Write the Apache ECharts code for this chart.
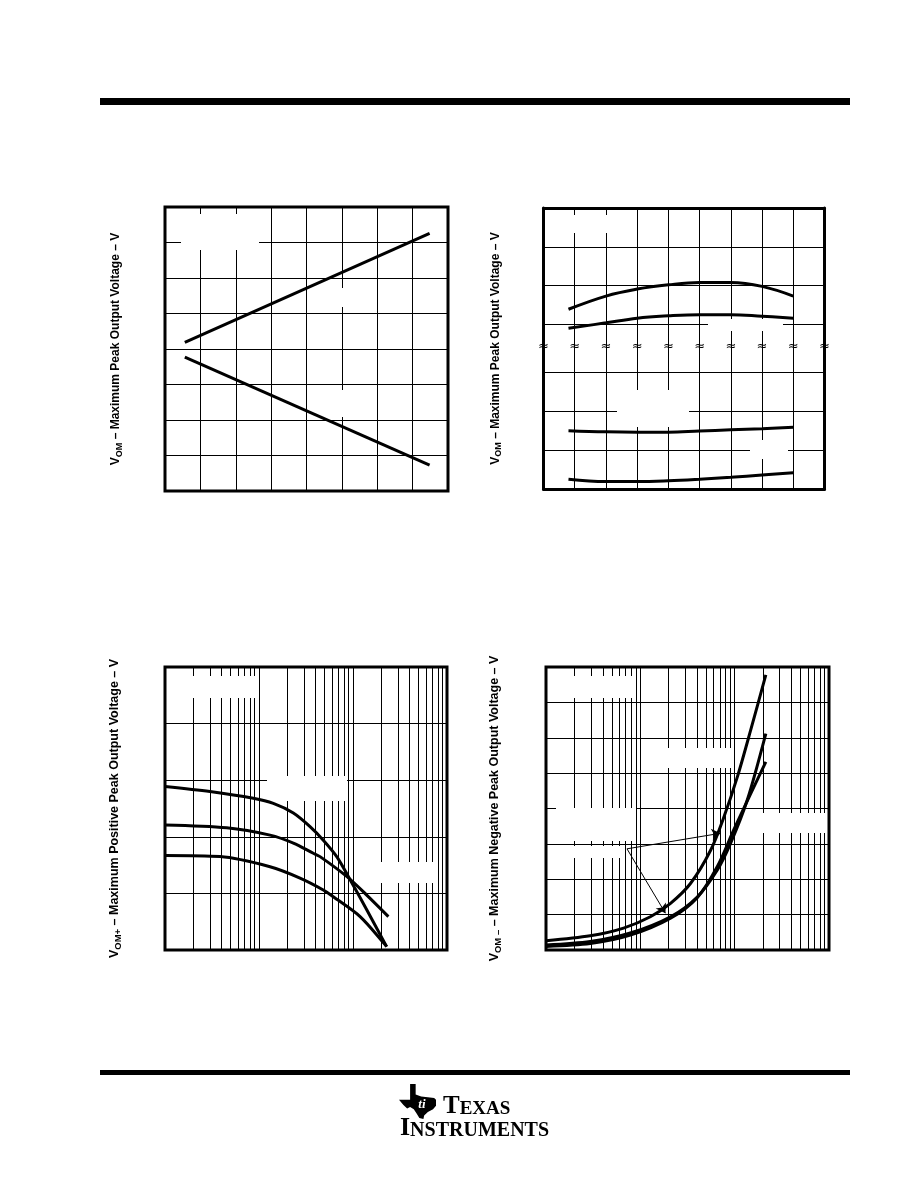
<!DOCTYPE html>
<html><head><meta charset="utf-8">
<script src="https://cdn.jsdelivr.net/npm/echarts@6/dist/echarts.min.js"></script>
<style>html,body{margin:0;padding:0;background:#fff}#c{width:918px;height:1188px}</style>
</head><body><div id="c"></div>
<script>
// ---------- DATA ----------
// Chart 1: maximum peak output voltage vs supply voltage
const c1Supply = [1.4, 18.7];
const c1VomPos = [0.95, 16.3];
const c1VomNeg = [-1.16, -16.37];
// Chart 2: maximum peak output voltage vs free-air temperature
const c2Temp = [-55, -25, 0, 25, 50, 75, 100, 125];
const c2PosA = [13.739, 13.773, 13.791, 13.802, 13.808, 13.808, 13.798, 13.773];
const c2PosB = [13.690, 13.704, 13.716, 13.722, 13.725, 13.725, 13.721, 13.716];
const c2NegC = [-13.850, -13.853, -13.854, -13.854, -13.851, -13.848, -13.845, -13.841];
const c2NegD = [-13.975, -13.981, -13.981, -13.979, -13.975, -13.970, -13.964, -13.958];
const c2TickValues = [-75, -50, -25, 0, 25, 50, 75, 100, 125, 150];
const c2BreakValue = 13.642;
// Chart 3: maximum positive peak output voltage vs output current (log)
const c3Curve1 = [[0.1,12.89],[0.301,12.80],[0.869,12.68],[1.42,12.59],[2.32,12.42],[3.49,12.18],[4.83,11.94],[6.71,11.65],[8.91,11.30],[14.0,10.71],[22.8,10.06]];
const c3Curve2 = [[0.1,12.21],[0.453,12.16],[1.31,12.03],[2.32,11.89],[3.78,11.71],[4.46,11.65],[8.57,11.30],[14.0,10.97],[23.8,10.59]];
const c3Curve3 = [[0.1,11.67],[0.385,11.65],[1.31,11.47],[2.73,11.27],[4.83,11.06],[6.17,10.94],[11.9,10.59],[22.8,10.06]];
// Chart 4: maximum negative peak output voltage vs output current (log)
const c4CurveA = [[0.1,-14.87],[0.294,-14.80],[0.664,-14.69],[1.277,-14.53],[2.09,-14.34],[3.40,-14.06],[5.56,-13.59],[7.69,-13.12],[10.7,-12.55],[14.8,-11.89],[21.4,-11.11]];
const c4CurveB = [[0.1,-14.93],[0.294,-14.88],[0.783,-14.76],[2.09,-14.53],[4.01,-14.25],[6.55,-13.87],[9.06,-13.49],[13.6,-12.88],[21.4,-11.94]];
const c4CurveC = [[0.1,-14.95],[0.294,-14.91],[0.783,-14.79],[2.09,-14.55],[4.01,-14.26],[6.55,-13.82],[9.8,-13.30],[14.8,-12.79],[21.4,-12.34]];
const c4ArrowFrom = [0.722, -13.57];
const c4ArrowTo1 = [7.10, -13.35];
const c4ArrowTo2 = [1.845, -14.48];
// log grid lines (0.1 .. 100)
const logGridX = [0.2,0.3,0.4,0.5,0.6,0.7,0.8,0.9,1,2,3,4,5,6,7,8,9,10,20,30,40,50,60,70,80,90];

// ---------- LAYOUT / STYLE ----------
const K = '#000';
const FONT = 'Liberation Sans, Arial, sans-serif';
const chart = echarts.init(document.getElementById('c'), null, {renderer: 'canvas', width: 918, height: 1188});

const noLbl = {axisLabel: {show: false}, axisTick: {show: false}};
const grid1px = {show: true, lineStyle: {color: K, width: 1, type: 'solid'}};
const thick = {show: true, onZero: false, lineStyle: {color: K, width: 3}};
const gridBox = {show: true, borderColor: K, borderWidth: 3, backgroundColor: 'transparent'};

function yName(text, gap, size) {
  return {
    name: text, nameLocation: 'middle', nameGap: gap, nameRotate: 90,
    nameTextStyle: {
      fontFamily: FONT, fontWeight: 'bold', fontSize: size, color: K,
      rich: {
        m: {fontFamily: FONT, fontWeight: 'bold', fontSize: size, color: K},
        s: {fontFamily: FONT, fontWeight: 'bold', fontSize: size - 3, color: K, padding: [7, 0, 0, 0]}
      }
    }
  };
}
function pairs(xs, ys) { return xs.map((x, i) => [x, ys[i]]); }
function curve(data, xi, yi, smooth) {
  return {type: 'line', xAxisIndex: xi, yAxisIndex: yi, data: data, symbol: 'none', smooth: smooth,
    lineStyle: {color: K, width: 3}, z: 10, silent: true};
}
function vLines(xi, yi) {
  return {type: 'line', xAxisIndex: xi, yAxisIndex: yi, data: [], z: 1, silent: true,
    markLine: {silent: true, symbol: ['none', 'none'], label: {show: false}, animation: false,
      lineStyle: {color: K, width: 1, type: 'solid'}, emphasis: {disabled: true},
      data: logGridX.map(v => ({xAxis: v}))}};
}

const option = {
  animation: false,
  backgroundColor: '#fff',
  grid: [
    Object.assign({left: 165, top: 207, width: 283, height: 284}, gridBox),
    {left: 543.5, top: 208, width: 281, height: 155.2},
    {left: 543.5, top: 333.4, width: 281, height: 155.6},
    Object.assign({left: 165, top: 667, width: 282, height: 283}, gridBox),
    Object.assign({left: 546, top: 667, width: 283, height: 283}, gridBox),
    {left: 543.5, top: 208, width: 281, height: 281}
  ],
  xAxis: [
    Object.assign({gridIndex: 0, type: 'value', min: 0, max: 20, interval: 2.5, splitLine: grid1px, axisLine: {show: false}}, noLbl),
    Object.assign({gridIndex: 1, type: 'value', position: 'top', min: -75, max: 150, interval: 25, splitLine: grid1px, axisLine: thick}, noLbl),
    Object.assign({gridIndex: 2, type: 'value', position: 'bottom', min: -75, max: 150, interval: 25, splitLine: grid1px, axisLine: thick}, noLbl),
    Object.assign({gridIndex: 3, type: 'log', logBase: 10, min: 0.1, max: 100, splitLine: {show: false}, axisLine: {show: false}}, noLbl),
    Object.assign({gridIndex: 4, type: 'log', logBase: 10, min: 0.1, max: 100, splitLine: {show: false}, axisLine: {show: false}}, noLbl),
    {gridIndex: 5, type: 'value', show: false, min: 0, max: 1}
  ],
  yAxis: [
    Object.assign({gridIndex: 0, type: 'value', min: -20, max: 20, interval: 5, splitLine: grid1px, axisLine: {show: false}}, noLbl,
      yName('{m|V}{s|OM} – Maximum Peak Output Voltage – V', 41, 12)),
    Object.assign({gridIndex: 1, type: 'value', min: 13.6, max: 14.0, interval: 0.1,
      splitLine: Object.assign({showMinLine: false}, grid1px), axisLine: thick}, noLbl),
    Object.assign({gridIndex: 1, type: 'value', position: 'right', min: 13.6, max: 14.0, splitLine: {show: false}, axisLine: thick}, noLbl),
    Object.assign({gridIndex: 2, type: 'value', min: -14.0, max: -13.6, interval: 0.1,
      splitLine: Object.assign({showMaxLine: false}, grid1px), axisLine: thick}, noLbl),
    Object.assign({gridIndex: 2, type: 'value', position: 'right', min: -14.0, max: -13.6, splitLine: {show: false}, axisLine: thick}, noLbl),
    Object.assign({gridIndex: 3, type: 'value', min: 10, max: 15, interval: 1, splitLine: grid1px, axisLine: {show: false}}, noLbl,
      yName('{m|V}{s|OM+} – Maximum Positive Peak Output Voltage – V', 42, 12.5)),
    Object.assign({gridIndex: 4, type: 'value', min: -15, max: -11, interval: 0.5, splitLine: grid1px, axisLine: {show: false}}, noLbl,
      yName('{m|V}{s|OM –} – Maximum Negative Peak Output Voltage – V', 43, 12.5)),
    Object.assign({gridIndex: 5, type: 'value', min: 0, max: 1, splitLine: {show: false}, axisLine: {show: false}}, noLbl,
      yName('{m|V}{s|OM} – Maximum Peak Output Voltage – V', 40, 12))
  ],
  series: [
    curve(pairs(c1Supply, c1VomPos), 0, 0, false),
    curve(pairs(c1Supply, c1VomNeg), 0, 0, false),
    curve(pairs(c2Temp, c2PosA), 1, 1, 0.4),
    curve(pairs(c2Temp, c2PosB), 1, 1, 0.4),
    curve(pairs(c2Temp, c2NegC), 2, 3, 0.4),
    curve(pairs(c2Temp, c2NegD), 2, 3, 0.4),
    vLines(3, 5),
    curve(c3Curve1, 3, 5, 0.3),
    curve(c3Curve2, 3, 5, 0.3),
    curve(c3Curve3, 3, 5, 0.3),
    vLines(4, 6),
    curve(c4CurveA, 4, 6, 0.3),
    curve(c4CurveB, 4, 6, 0.3),
    curve(c4CurveC, 4, 6, 0.3),
    {type: 'line', xAxisIndex: 4, yAxisIndex: 6, data: [], z: 11, silent: true,
      markLine: {silent: true, z: 11, symbol: ['none', 'arrow'], symbolSize: 9, label: {show: false}, animation: false,
        lineStyle: {color: K, width: 1, type: 'solid'}, emphasis: {disabled: true},
        data: [[{coord: c4ArrowFrom}, {coord: c4ArrowTo1}], [{coord: c4ArrowFrom}, {coord: c4ArrowTo2}]]}}
  ]
};
chart.setOption(option);

// white boxes where the original's (blank) annotation texts sit over the grid
const maskBoxes = [
  [181, 214, 78, 36], [322, 288, 44, 19], [322, 390, 44, 27],
  [556, 215, 76, 18], [708, 319, 75, 12], [617, 390, 72, 37], [750, 440, 38, 19],
  [182, 676, 75, 22], [267, 776, 80, 25], [372, 862, 65, 21],
  [556, 676, 80, 22], [556, 808, 80, 33], [556, 846, 68, 12], [753, 813, 73, 20], [667, 748, 66, 20]
];
const graphics = [];
maskBoxes.forEach(b => graphics.push({type: 'rect', z: 6, silent: true,
  shape: {x: b[0], y: b[1], width: b[2], height: b[3]}, style: {fill: '#fff'}}));
// axis-break marks of chart 2
const breakY = chart.convertToPixel({yAxisIndex: 1}, c2BreakValue);
c2TickValues.forEach(v => {
  const px = chart.convertToPixel({xAxisIndex: 1}, v);
  graphics.push({type: 'text', z: 12, silent: true,
    style: {text: '≈', x: px, y: breakY, align: 'center', verticalAlign: 'middle', fontSize: 13, fontFamily: 'DejaVu Sans', fill: K}});
});
// page rules
graphics.push({type: 'rect', z: 12, silent: true, shape: {x: 100, y: 98, width: 750, height: 7}, style: {fill: K}});
graphics.push({type: 'rect', z: 12, silent: true, shape: {x: 100, y: 1070, width: 750, height: 5}, style: {fill: K}});
// TI logo
const lx = 399, ly = 1084, lw = 37, lh = 35;
const tx = [[0.30,0],[0.45,0],[0.45,0.30],[0.60,0.36],[0.78,0.38],[0.95,0.40],[1,0.45],[1,0.62],[0.92,0.72],[0.78,0.80],[0.68,0.90],[0.66,1],[0.55,0.97],[0.48,0.85],[0.40,0.72],[0.30,0.66],[0.22,0.70],[0.12,0.60],[0,0.45],[0.30,0.45]];
graphics.push({type: 'polygon', z: 12, silent: true, shape: {points: tx.map(p => [lx + p[0] * lw, ly + p[1] * lh])}, style: {fill: K}});
graphics.push({type: 'text', z: 13, silent: true, style: {text: 'ti', x: lx + 0.62 * lw, y: ly + 0.58 * lh, align: 'center', verticalAlign: 'middle',
  fontSize: 13, fontWeight: 'bold', fontStyle: 'italic', fontFamily: 'Liberation Serif, serif', fill: '#fff'}});
graphics.push({type: 'text', z: 12, silent: true, style: {text: '{b|T}{s|EXAS}', x: 443, y: 1119, verticalAlign: 'bottom',
  rich: {b: {fontSize: 25, fontWeight: 'bold', fontFamily: 'Liberation Serif, serif', fill: K, verticalAlign: 'bottom'},
         s: {fontSize: 19, fontWeight: 'bold', fontFamily: 'Liberation Serif, serif', fill: K, verticalAlign: 'bottom'}}}});
graphics.push({type: 'text', z: 12, silent: true, style: {text: '{b|I}{s|NSTRUMENTS}', x: 400, y: 1141, verticalAlign: 'bottom',
  rich: {b: {fontSize: 26, fontWeight: 'bold', fontFamily: 'Liberation Serif, serif', fill: K, verticalAlign: 'bottom'},
         s: {fontSize: 20, fontWeight: 'bold', fontFamily: 'Liberation Serif, serif', fill: K, verticalAlign: 'bottom'}}}});
chart.setOption({graphic: graphics});
</script>
</body></html>
